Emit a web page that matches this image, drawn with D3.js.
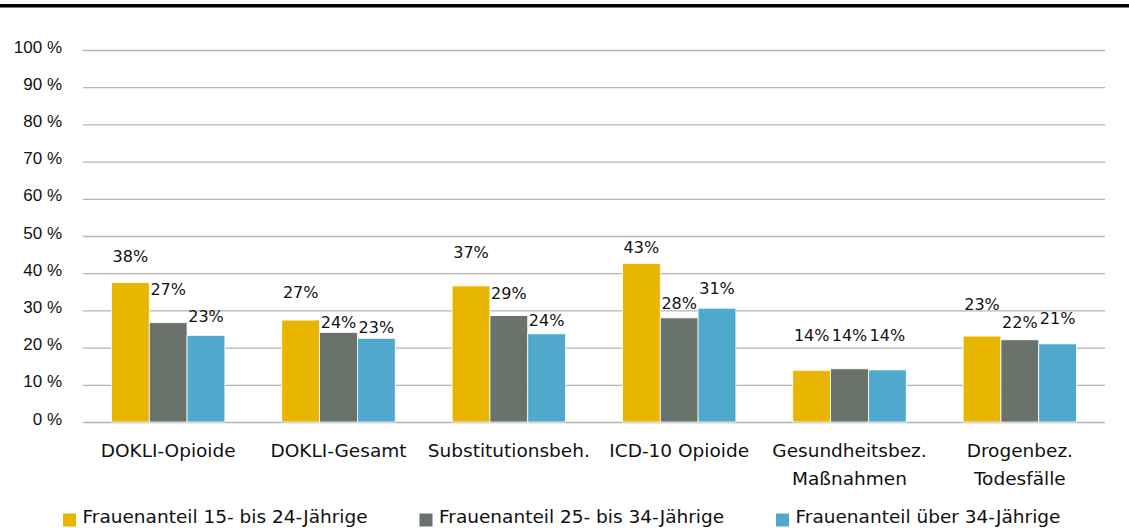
<!DOCTYPE html>
<html>
<head>
<meta charset="utf-8">
<script src="https://cdn.jsdelivr.net/npm/d3@7"></script>
<style>
  body { margin: 0; background: #fff; }
  svg { display: block; font-family: "DejaVu Sans", sans-serif; }
  .tick line { stroke: #b4b4b4; stroke-width: 1.3; }
  .tick text { font-size: 17px; fill: #111; }
</style>
</head>
<body>
<script>
// categories (second line after "|")
var categories = [
  "DOKLI-Opioide",
  "DOKLI-Gesamt",
  "Substitutionsbeh.",
  "ICD-10 Opioide",
  "Gesundheitsbez.|Maßnahmen",
  "Drogenbez.|Todesfälle"
];
var seriesNames = [
  "Frauenanteil 15- bis 24-Jährige",
  "Frauenanteil 25- bis 34-Jährige",
  "Frauenanteil über 34-Jährige"
];
// bar values in %
var values15to24 = [37.5, 27.4, 36.6, 42.6, 13.9, 23.1];
var values25to34 = [26.7, 24.1, 28.6, 28.0, 14.3, 22.1];
var valuesOver34 = [23.3, 22.5, 23.7, 30.6, 14.0, 21.0];
// data labels
var labels15to24 = ["38%", "27%", "37%", "43%", "14%", "23%"];
var labels25to34 = ["27%", "24%", "29%", "28%", "14%", "22%"];
var labelsOver34 = ["23%", "23%", "24%", "31%", "14%", "21%"];
// where each label sits (in % on the y axis, as placed in the original)
var anchor15to24 = [43.0, 33.4, 44.0, 45.3, 21.9, 30.1];
var anchor25to34 = [34.1, 25.3, 33.1, 30.4, 21.9, 25.3];
var anchorOver34 = [26.9, 23.8, 25.8, 34.4, 21.9, 26.3];
// y axis ticks
var yTicks = [0, 10, 20, 30, 40, 50, 60, 70, 80, 90, 100];

var colors = ["#e8b500", "#6a736b", "#4fa9cc"];

var w = 1129,
  h = 528;
var plotLeft = 83,
  plotRight = 1105,
  plotTop = 50,
  plotBottom = 422;

var series = [
  { name: seriesNames[0], values: values15to24, labels: labels15to24, anchors: anchor15to24 },
  { name: seriesNames[1], values: values25to34, labels: labels25to34, anchors: anchor25to34 },
  { name: seriesNames[2], values: valuesOver34, labels: labelsOver34, anchors: anchorOver34 }
];

var svg = d3.select("body").append("svg").attr("width", w).attr("height", h);

// black rule at the top
svg.append("rect")
  .attr("x", 0)
  .attr("y", 4)
  .attr("width", w)
  .attr("height", 3.5)
  .attr("fill", "#000");

// scales
var xScale = d3.scaleBand()
  .domain(categories)
  .range([plotLeft, plotRight])
  .paddingInner(0.334)
  .paddingOuter(0.167);

var xInner = d3.scaleBand()
  .domain(d3.range(series.length))
  .range([0, xScale.bandwidth()]);

var yScale = d3.scaleLinear().domain([0, 100]).range([plotBottom, plotTop]);

// y axis with gridlines
var yAxis = d3.axisLeft(yScale)
  .tickValues(yTicks)
  .tickSize(-(plotRight - plotLeft))
  .tickPadding(21)
  .tickFormat(function (d) { return d + " %"; });

var gy = svg.append("g")
  .attr("transform", "translate(" + plotLeft + ",0)")
  .call(yAxis);
gy.select(".domain").remove();
gy.selectAll(".tick text").attr("dy", "0.12em");

// bars
var groups = svg.selectAll(".group")
  .data(categories)
  .enter()
  .append("g")
  .attr("class", "group")
  .attr("transform", function (d) { return "translate(" + xScale(d) + ",0)"; });

groups.selectAll("rect")
  .data(function (d, ci) {
    return series.map(function (s, si) { return { si: si, v: s.values[ci] }; });
  })
  .enter()
  .append("rect")
  .attr("x", function (d) { return xInner(d.si); })
  .attr("y", function (d) { return yScale(d.v); })
  .attr("width", xInner.bandwidth())
  .attr("height", function (d) { return yScale(0) - yScale(d.v); })
  .attr("fill", function (d) { return colors[d.si]; })
  .attr("stroke", "#fff")
  .attr("stroke-width", 0.8);

// data labels
groups.selectAll(".vlabel")
  .data(function (d, ci) {
    return series.map(function (s, si) { return { si: si, t: s.labels[ci], a: s.anchors[ci] }; });
  })
  .enter()
  .append("text")
  .attr("class", "vlabel")
  .attr("x", function (d) { return xInner(d.si) + xInner.bandwidth() / 2; })
  .attr("y", function (d) { return yScale(d.a); })
  .attr("text-anchor", "middle")
  .attr("font-size", 16)
  .attr("fill", "#111")
  .text(function (d) { return d.t; });

// category labels
var catLabels = svg.selectAll(".cat")
  .data(categories)
  .enter()
  .append("text")
  .attr("class", "cat")
  .attr("text-anchor", "middle")
  .attr("font-size", 18.5)
  .attr("fill", "#111");

catLabels.each(function (d) {
  var cx = xScale(d) + xScale.bandwidth() / 2;
  var parts = d.split("|");
  var t = d3.select(this);
  parts.forEach(function (p, i) {
    t.append("tspan")
      .attr("x", cx)
      .attr("y", 456.5 + i * 28.5)
      .text(p);
  });
});

// legend at the bottom, three equal slots
var legendX = d3.scalePoint()
  .domain(d3.range(series.length))
  .range([63, 776]);

var legendItems = svg.append("g")
  .attr("class", "legend")
  .selectAll("g")
  .data(series)
  .enter()
  .append("g")
  .attr("transform", function (d, i) { return "translate(" + legendX(i) + ",0)"; });

legendItems.append("rect")
  .attr("x", 0)
  .attr("y", 513.5)
  .attr("width", 13)
  .attr("height", 13)
  .attr("fill", function (d, i) { return colors[i]; });

legendItems.append("text")
  .attr("x", 19.5)
  .attr("y", 523)
  .attr("font-size", 18.5)
  .attr("fill", "#111")
  .text(function (d) { return d.name; });
</script>
</body>
</html>
